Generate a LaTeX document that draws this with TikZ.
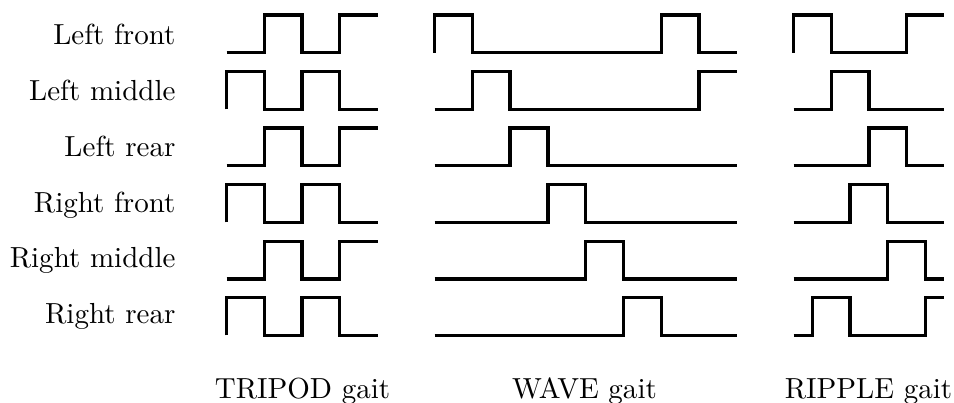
\documentclass[tikz,border=0pt]{standalone}
\begin{document}
\begin{tikzpicture}[x=0.3774pt,y=-0.3774pt,
  wave/.style={line width=1.25pt},
  lbl/.style={anchor=base east,inner sep=0pt,font=\fontsize{10.95}{13}\selectfont},
  gaitlbl/.style={anchor=base,inner sep=0pt,font=\fontsize{10.95}{13}\selectfont}]
\useasboundingbox (0,0) rectangle (954,403);
% labels
\node[lbl] (l1) at (176,45) {Left front};
\node[lbl] (l2) at (176,100.7) {Left middle};
\node[lbl] (l3) at (176,156.4) {Left rear};
\node[lbl] (l4) at (176,212.1) {Right front};
\node[lbl] (l5) at (176,267.8) {Right middle};
\node[lbl] (l6) at (176,323.5) {Right rear};
\node[gaitlbl] (g1) at (302.5,399) {TRIPOD gait};
\node[gaitlbl] (g2) at (584.5,399) {WAVE gait};
\node[gaitlbl] (g3) at (868.5,399) {RIPPLE gait};
% TRIPOD
\begin{scope}[shift={(226.7,52.7)},x=14.23pt,y=14.23pt]
  \foreach \r in {0,2,4}{
    \draw[wave] (0,-1.5*\r) -- ++(1,0) -- ++(0,1) -- ++(1,0) -- ++(0,-1) -- ++(1,0) -- ++(0,1) -- ++(1,0);
  }
  \foreach \r in {1,3,5}{
    \draw[wave] (0,-1.5*\r) -- ++(0,1) -- ++(1,0) -- ++(0,-1) -- ++(1,0) -- ++(0,1) -- ++(1,0) -- ++(0,-1) -- ++(1,0);
  }
\end{scope}
% WAVE
\begin{scope}[shift={(434.5,52.7)},x=14.26pt,y=14.23pt]
  \draw[wave] (0,0) -- (0,1) -- (1,1) -- (1,0) -- (6,0) -- (6,1) -- (7,1) -- (7,0) -- (8,0);
  \draw[wave] (0,-1.5) -- (1,-1.5) -- (1,-0.5) -- (2,-0.5) -- (2,-1.5) -- (7,-1.5) -- (7,-0.5) -- (8,-0.5);
  \foreach \k in {2,3,4,5}{
    \draw[wave] (0,-1.5*\k) -- (\k,-1.5*\k) -- (\k,-1.5*\k+1) -- (\k+1,-1.5*\k+1) -- (\k+1,-1.5*\k) -- (8,-1.5*\k);
  }
\end{scope}
% RIPPLE
\begin{scope}[shift={(793.5,52.7)},x=14.23pt,y=14.23pt]
  \draw[wave] (0,0) -- (0,1) -- (1,1) -- (1,0) -- (3,0) -- (3,1) -- (4,1);
  \draw[wave] (0,-1.5) -- (1,-1.5) -- (1,-0.5) -- (2,-0.5) -- (2,-1.5) -- (4,-1.5);
  \draw[wave] (0,-3) -- (2,-3) -- (2,-2) -- (3,-2) -- (3,-3) -- (4,-3);
  \draw[wave] (0,-4.5) -- (1.5,-4.5) -- (1.5,-3.5) -- (2.5,-3.5) -- (2.5,-4.5) -- (4,-4.5);
  \draw[wave] (0,-6) -- (2.5,-6) -- (2.5,-5) -- (3.5,-5) -- (3.5,-6) -- (4,-6);
  \draw[wave] (0,-7.5) -- (0.5,-7.5) -- (0.5,-6.5) -- (1.5,-6.5) -- (1.5,-7.5) -- (3.5,-7.5) -- (3.5,-6.5) -- (4,-6.5);
\end{scope}
\end{tikzpicture}
\end{document}
